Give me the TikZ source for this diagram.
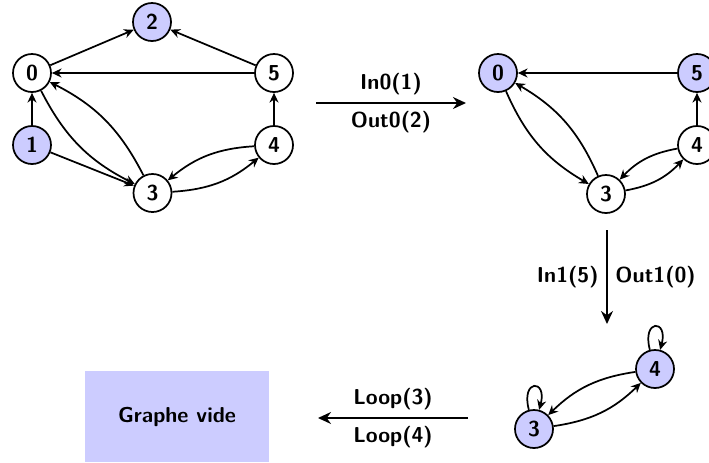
\documentclass[tikz,border=0pt]{standalone}
\usetikzlibrary{arrows.meta}
\begin{document}
\begin{tikzpicture}[x=0.463pt,y=0.463pt,
  font=\sffamily\bfseries,
  vertex/.style={circle,draw,line width=0.8pt,minimum size=17.6pt,inner sep=0pt},
  marked/.style={vertex,fill=blue!20},
  edge/.style={line width=0.8pt,-{Stealth[length=4.5pt,width=4.2pt]}},
  bent/.style={edge,bend right=18},
  move/.style={line width=1.2pt,-{Stealth[length=6pt,width=5.5pt]}}]
\useasboundingbox (0,0) rectangle (709,462);

% initial graph
\node[vertex] (a0) at (32,389) {0};
\node[marked] (a1) at (32,317) {1};
\node[marked] (a2) at (152,440) {2};
\node[vertex] (a3) at (152.5,269) {3};
\node[vertex] (a4) at (274,317) {4};
\node[vertex] (a5) at (274,389) {5};
\draw[edge] (a1) -- (a0);
\draw[edge] (a0) -- (a2);
\draw[edge] (a5) -- (a2);
\draw[edge] (a5) -- (a0);
\draw[edge] (a4) -- (a5);
\draw[edge] (a1) -- (a3);
\draw[bent] (a0) to (a3);
\draw[bent] (a3) to (a0);
\draw[bent] (a4) to (a3);
\draw[bent] (a3) to (a4);

% after removing 1 and 2
\node[marked] (b0) at (498,389) {0};
\node[marked] (b5) at (697,389) {5};
\node[vertex] (b4) at (697,317) {4};
\node[vertex] (b3) at (606,268) {3};
\draw[edge] (b5) -- (b0);
\draw[edge] (b4) -- (b5);
\draw[bent] (b0) to (b3);
\draw[bent] (b3) to (b0);
\draw[bent] (b4) to (b3);
\draw[bent] (b3) to (b4);

% after removing 5 and 0
\node[marked] (c3) at (534,33) {3};
\node[marked] (c4) at (655,93) {4};
\draw[edge] (c3) to[loop above] (c3);
\draw[edge] (c4) to[loop above] (c4);
\draw[bent] (c4) to (c3);
\draw[bent] (c3) to (c4);

% empty graph
\node[fill=blue!20,minimum width=85.2pt,minimum height=42.3pt] (empty) at (177,45.5) {Graphe vide};

% reduction steps
\coordinate (s1a) at (316,359);
\coordinate (s1b) at (466,359);
\draw[move] (s1a) -- node[above] {In0(1)} node[below] {Out0(2)} (s1b);
\coordinate (s2a) at (607,232);
\coordinate (s2b) at (607,138);
\draw[move] (s2a) -- node[left] {In1(5)} node[right] {Out1(0)} (s2b);
\coordinate (s3a) at (468,44);
\coordinate (s3b) at (318,44);
\draw[move] (s3a) -- node[above] {Loop(3)} node[below] {Loop(4)} (s3b);
\end{tikzpicture}
\end{document}
